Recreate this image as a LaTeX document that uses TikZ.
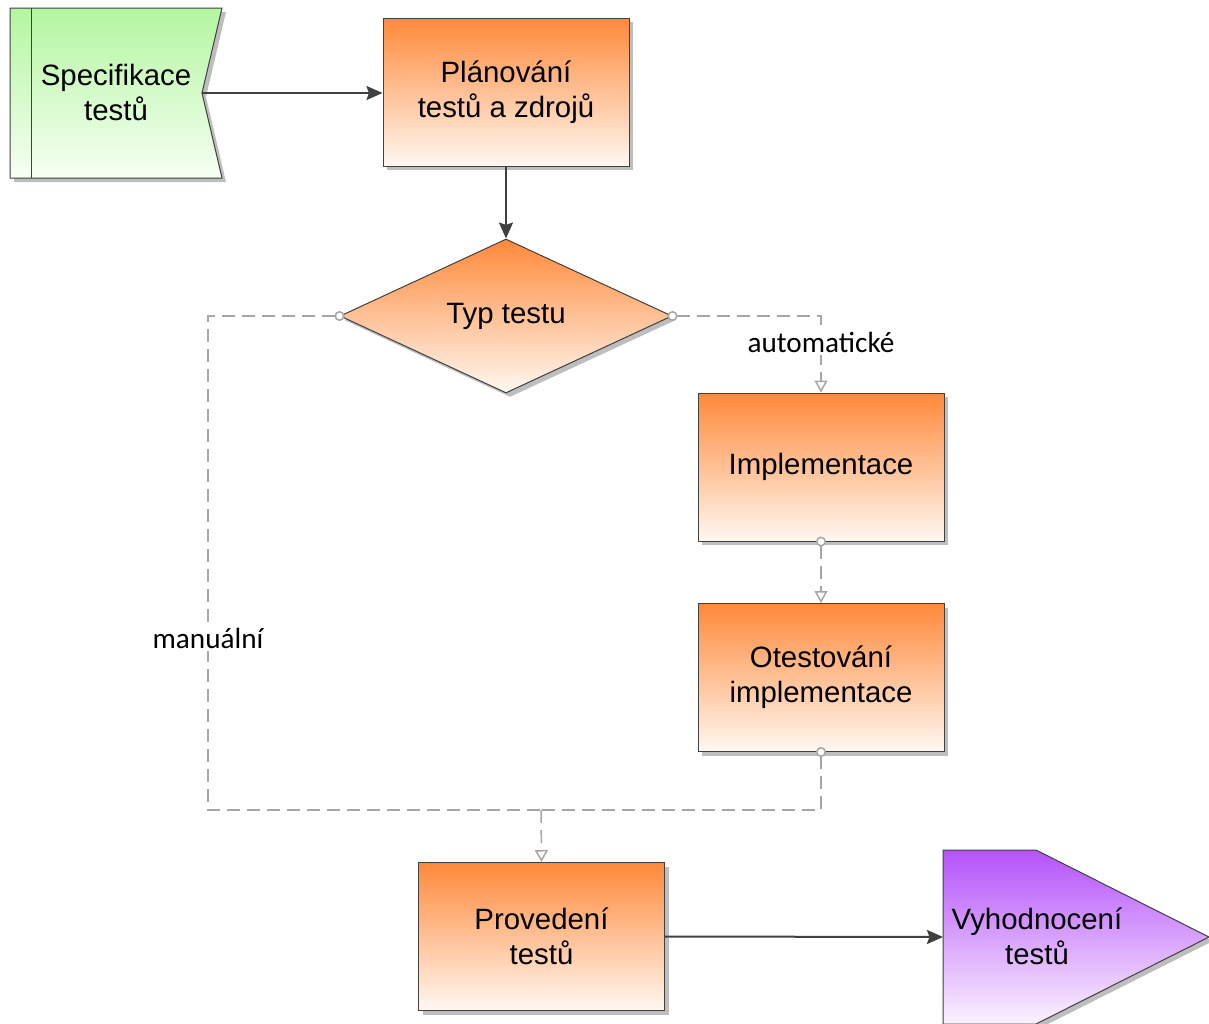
\documentclass[tikz,border=0pt]{standalone}
\usepackage{fontspec}
\setmainfont{Liberation Sans}
\newfontfamily\lblfont{Carlito}
\usetikzlibrary{arrows.meta,shapes.geometric,shadows,calc}

\definecolor{edge}{RGB}{64,64,64}
\definecolor{dashgray}{RGB}{166,166,166}
\definecolor{orangetop}{RGB}{255,137,58}
\definecolor{orangebot}{RGB}{255,248,242}
\definecolor{greentop}{RGB}{180,246,160}
\definecolor{greenbot}{RGB}{246,255,243}
\definecolor{purpletop}{RGB}{181,82,250}
\definecolor{purplebot}{RGB}{251,242,255}
\definecolor{shadowgray}{RGB}{190,190,190}

\tikzset{
  boxshadow/.style={drop shadow={shadow xshift=2pt,shadow yshift=-2pt,fill=shadowgray,opacity=1}},
  boxfont/.style={font=\fontsize{14.7}{17.5}\selectfont},
  taskbox/.style={rectangle, draw=edge, line width=0.5pt,
    top color=orangetop, bottom color=orangebot,
    minimum width=123pt, minimum height=74pt, inner sep=0pt,
    align=center, boxfont, boxshadow},
  decision/.style={diamond, draw=edge, line width=0.5pt,
    top color=orangetop, bottom color=orangebot,
    minimum width=166pt, minimum height=77pt, inner sep=0pt, aspect=2.15,
    align=center, boxfont, boxshadow},
  flow/.style={draw=edge, line width=1pt, -{Stealth[length=8pt,width=7pt,inset=1.2pt]}},
  altflow/.style={draw=dashgray, line width=0.75pt, dash pattern=on 6.5pt off 3.5pt},
  altstart/.style={{Circle[open,length=5pt,width=5pt,fill=white]}-, shorten <=-2.5pt},
  altend/.style={-{Triangle[open,length=6pt,width=6.5pt,fill=white]}},
  altboth/.style={{Circle[open,length=5pt,width=5pt,fill=white]}-{Triangle[open,length=6pt,width=6.5pt,fill=white]}, shorten <=-2.5pt},
  lbl/.style={fill=white, inner sep=1.5pt, font=\lblfont\fontsize{14.6}{16}\selectfont}
}

\begin{document}
\begin{tikzpicture}[x=0.5pt,y=-0.5pt]
\useasboundingbox (0,0) rectangle (1209,1023);

% start event: test specification (notched on the right)
\fill[shadowgray] (14,12) -- (226,12) -- (206,97) -- (226,182) -- (14,182) -- cycle;
\path[draw=edge, line width=0.5pt, top color=greentop, bottom color=greenbot]
  (10,8) -- (222,8) -- (202,93) -- (222,178) -- (10,178) -- cycle;
\draw[edge, line width=0.5pt] (31,8) -- (31,178);
\node[boxfont, align=center] (spec) at (116,92) {Specifikace\\testů};
\coordinate (specout) at (202,93);

% end event: evaluation (pointed to the right)
\fill[shadowgray] (947,854) -- (1040,854) -- (1213,941) -- (1040,1028) -- (947,1028) -- cycle;
\path[draw=edge, line width=0.5pt, top color=purpletop, bottom color=purplebot]
  (943,850) -- (1036,850) -- (1209,937) -- (1036,1024) -- (943,1024) -- cycle;
\node[boxfont, align=center] (vyh) at (1037,936) {Vyhodnocení\\testů};
\coordinate (vyhin) at (943,937);

% process steps
\node[taskbox] (plan) at (506,92) {Plánování\\testů a zdrojů};
\node[decision] (typ) at (506,316) {\raisebox{-1.5pt}{Typ testu}};
\node[taskbox] (impl) at (821,467) {Implementace};
\node[taskbox] (otest) at (821,677.5) {Otestování\\implementace};
\node[taskbox] (prov) at (541.5,936.5) {Provedení\\testů};

\coordinate (merge) at (541,810);

% main flow
\draw[flow] (specout) -- (specout -| plan.west);
\draw[flow] (plan.south) -- (typ.north);
\draw[flow] (prov.east) -- (vyhin);

% alternative branches
\draw[altflow, altstart] (typ.west) -- (208,316)
  -- node[lbl, pos=0.652] {manuální} (208,810) -- (merge);
\draw[altflow, altend] (merge) -- (prov.north);
\draw[altflow, altboth] (typ.east) -- (821,316)
  -- node[lbl, pos=0.34] {automatické} (impl.north);
\draw[altflow, altboth] (impl.south) -- (otest.north);
\draw[altflow, altstart] (otest.south) -- (821,810) -- (merge);
\end{tikzpicture}
\end{document}
